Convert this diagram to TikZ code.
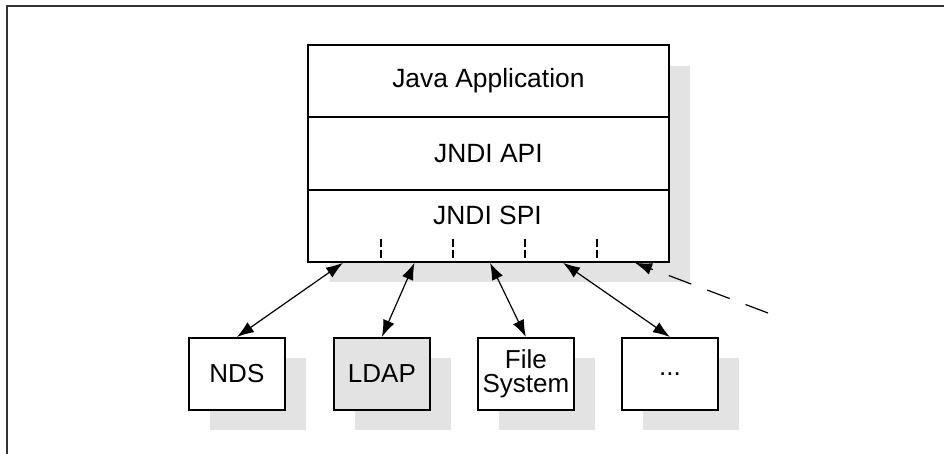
\documentclass[tikz,border=0pt]{standalone}
\usepackage{fontspec}
\setmainfont{Liberation Sans}
\usetikzlibrary{arrows.meta,positioning}
\definecolor{shadowgray}{HTML}{E3E3E3}
\definecolor{framec}{HTML}{333333}
\tikzset{
  layer/.style={draw=black,line width=1.8pt,minimum width=361pt,minimum height=72.5pt,inner sep=0pt,font=\fontsize{26.4}{28}\selectfont,anchor=north west},
  store/.style={draw=black,line width=1.8pt,minimum width=96pt,minimum height=72pt,inner sep=0pt,font=\fontsize{26}{24}\selectfont,align=center,anchor=north west},
  link/.style={line width=1.2pt,{Latex[length=17pt,width=12pt]}-{Latex[length=17pt,width=12pt]}},
  oneway/.style={line width=1.2pt,-{Latex[length=17pt,width=12pt]},dash pattern=on 24pt off 17pt},
  tick/.style={line width=1.6pt,dash pattern=on 8pt off 3pt},
}
\begin{document}
\begin{tikzpicture}[x=1pt,y=-1pt]
\useasboundingbox (0,0) rectangle (944,454);
% frame
\draw[framec,line width=1.5pt] (7,454) -- (7,6) -- (944,6);
% shadows
\fill[shadowgray] (330,66) rectangle (690,282);
\fill[shadowgray] (210,358) rectangle (306,430);
\fill[shadowgray] (355,358) rectangle (451,430);
\fill[shadowgray] (499,358) rectangle (595,430);
\fill[shadowgray] (643,358) rectangle (739,430);
% main stack
\node[layer,fill=white] (app) at (307,44) {Java Application};
\node[layer,fill=white,minimum height=72.5pt] (api) at (307,116.5) {JNDI API};
\node[layer,fill=white,minimum height=72pt] (spi) at (307,189) {};
\node[font=\fontsize{26.4}{28}\selectfont] (spilabel) at (487.5,215) {JNDI SPI};
% ticks
\foreach \t in {74,146,218,290}{
  \draw[tick] ([xshift=\t pt,yshift=24pt]spi.south west) -- ([xshift=\t pt]spi.south west);
}
% stores
\node[store,fill=white] (nds) at (188,337) {NDS};
\node[store,fill=shadowgray] (ldap) at (333,337) {LDAP};
\node[store,fill=white] (fs) at (477,337) {File\\System};
\node[store,fill=white] (more) at (621,337) {...};
% connectors
\draw[link] (nds.north) -- ([xshift=36pt]spi.south west);
\draw[link] (ldap.north) -- ([xshift=107.5pt]spi.south west);
\draw[link] (fs.north) -- ([xshift=183pt]spi.south west);
\draw[link] (more.north) -- ([xshift=256pt]spi.south west);
\coordinate (far) at (768,313);
\draw[oneway] (far) -- ([xshift=328pt]spi.south west);
\end{tikzpicture}
\end{document}
